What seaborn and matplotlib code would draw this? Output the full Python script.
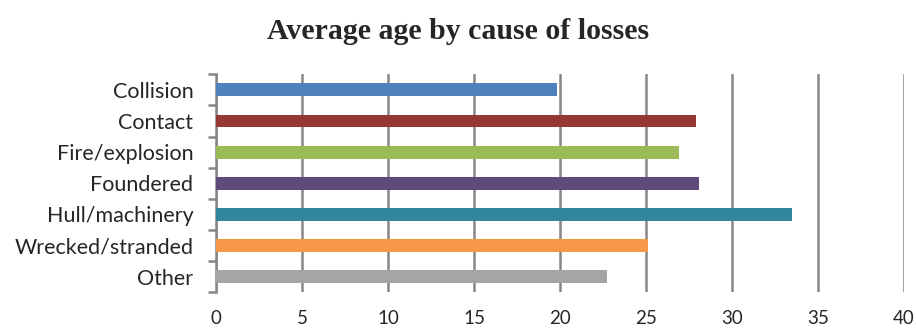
import matplotlib
matplotlib.use("Agg")
import matplotlib.pyplot as plt
import seaborn as sns
import pandas as pd
import numpy as np

# data
causes = ["Collision", "Contact", "Fire/explosion", "Foundered",
          "Hull/machinery", "Wrecked/stranded", "Other"]
avg_age = [19.8, 27.9, 26.9, 28.1, 33.5, 25.1, 22.7]
colors = ["#4F81BD", "#953735", "#9BBB59", "#604A7B",
          "#31859C", "#F79646", "#A5A5A5"]
x_ticks = [0, 5, 10, 15, 20, 25, 30, 35, 40]

sns.set_style("white")
plt.rcParams["font.family"] = ["Lato", "DejaVu Sans"]

df = pd.DataFrame({"cause": causes, "age": avg_age})

fig = plt.figure(figsize=(9.16, 3.29), dpi=100)
ax = fig.add_axes([0.2361, 0.1115, 0.7508, 0.6627])

sns.barplot(data=df, x="age", y="cause", hue="cause", palette=colors,
            orient="h", width=0.41, legend=False, saturation=1,
            linewidth=0, ax=ax, zorder=3)

ax.set_xlim(0, 40)
ax.set_ylim(6.5, -0.5)
ax.set_xticks(x_ticks)
ax.set_xticklabels([str(t) for t in x_ticks])
ax.set_xlabel("")
ax.set_ylabel("")

# vertical gridlines like Excel
ax.grid(axis="x", color="#868686", linewidth=1.8, zorder=0)
ax.grid(axis="y", visible=False)

for side in ["top", "right", "bottom"]:
    ax.spines[side].set_visible(False)
ax.spines["left"].set_color("#868686")
ax.spines["left"].set_linewidth(1.8)

# category boundary tick marks on y axis
ax.set_yticks(np.arange(-0.5, 7, 1), minor=True)
ax.tick_params(axis="y", which="minor", length=6, width=1.8, color="#868686", left=True)
ax.tick_params(axis="y", which="major", length=0, pad=16.5, labelsize=15.5)
ax.tick_params(axis="x", which="major", length=0, pad=13, labelsize=13.5)

fig.suptitle("Average age by cause of losses", x=0.5, y=0.945,
             fontsize=21.5, fontweight="bold", family="Liberation Serif")

fig.savefig("out.png", dpi=100)
